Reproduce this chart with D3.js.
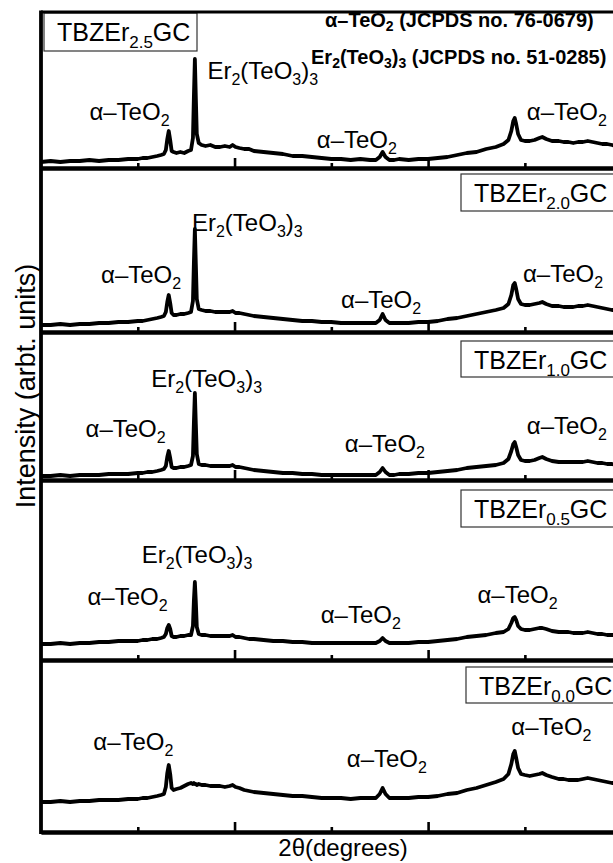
<!DOCTYPE html>
<html>
<head>
<meta charset="utf-8">
<script src="https://cdn.jsdelivr.net/npm/d3@7"></script>
<style>
  html, body { margin: 0; padding: 0; background: #fff; overflow: hidden; }
  text { font-family: "Liberation Sans", Arial, sans-serif; fill: #000; }
</style>
</head>
<body>
<svg id="chart" width="613" height="863"></svg>
<script>
// ---- data -------------------------------------------------------------
// 2θ sampling grid (degrees), shared by all patterns
const twoTheta = [
  10, 11, 12, 13, 14, 15, 16, 17, 18, 19, 20, 20.5, 21, 21.5, 22, 22.4, 22.7, 22.9, 23.05, 23.2,
  23.35, 23.5, 23.7, 24.0, 24.4, 24.8, 25.2, 25.5, 25.7, 25.8, 25.9, 26.0, 26.1, 26.3, 26.6, 27.0,
  27.5, 28, 28.5, 29, 29.5, 29.8, 30.1, 30.5, 31, 31.5, 32, 33, 34, 35, 36, 37, 38, 39, 40, 41,
  42, 43, 44, 44.6, 45.0, 45.3, 45.6, 46.0, 46.5, 47, 48, 49, 50, 51, 52, 53, 54, 55, 56, 57,
  57.8, 58.3, 58.6, 58.8, 58.95, 59.1, 59.3, 59.6, 60.0, 60.5, 61.0, 61.5, 61.8, 62.2, 62.8,
  63.5, 64, 64.5, 65, 65.5, 66, 66.5, 67, 67.5, 68, 68.5, 69, 69.5, 70, 70.5, 71, 71.5, 72
];

// Intensity (a.u.) of each glass-ceramic at the 2θ points above
const tbzEr25 = [
  6, 7, 6, 7, 7, 8, 7, 8, 8, 9, 9, 10, 10, 11, 12, 13, 14, 18, 29, 37,
  28, 17, 16, 15, 16, 15, 17, 18, 30, 72, 109, 70, 34, 25, 23, 22,
  23, 21, 21, 22, 21, 23, 21, 20, 19, 19, 17, 16, 15, 14, 12, 12, 11, 10, 9, 9,
  8, 9, 8, 8, 11, 16, 11, 8, 8, 9, 8, 9, 9, 10, 11, 13, 15, 16, 19, 21,
  24, 28, 37, 47, 50, 44, 34, 28, 27, 27, 28, 30, 31, 29, 27,
  27, 26, 26, 25, 26, 26, 27, 26, 25, 24, 24, 23, 22, 22, 21, 21, 20, 20
];
const tbzEr20 = [
  7, 7, 8, 7, 8, 8, 9, 9, 10, 10, 11, 11, 12, 13, 14, 15, 16, 20, 30, 37,
  29, 19, 17, 17, 18, 18, 19, 20, 31, 70, 103, 68, 33, 23, 22, 21,
  21, 20, 20, 20, 20, 21, 19, 19, 18, 17, 16, 15, 14, 13, 12, 11, 11, 10, 10, 9,
  9, 9, 9, 9, 12, 18, 12, 9, 9, 9, 9, 10, 10, 11, 13, 14, 16, 18, 20, 22,
  24, 28, 37, 47, 49, 43, 33, 28, 27, 27, 28, 29, 30, 28, 26,
  26, 25, 25, 25, 26, 26, 27, 26, 25, 24, 23, 22, 22, 21, 21, 20, 20, 20
];
const tbzEr10 = [
  4, 4, 5, 4, 5, 5, 5, 6, 6, 6, 7, 7, 8, 8, 9, 10, 11, 14, 23, 29,
  22, 13, 12, 12, 13, 13, 14, 15, 24, 58, 87, 56, 26, 16, 15, 15,
  14, 14, 14, 14, 14, 15, 13, 13, 12, 11, 10, 9, 8, 7, 7, 6, 6, 5, 5, 5,
  5, 5, 5, 5, 8, 12, 8, 5, 5, 6, 6, 7, 7, 8, 9, 10, 12, 13, 14, 15,
  17, 21, 29, 36, 38, 33, 25, 20, 19, 19, 20, 22, 23, 21, 19,
  18, 18, 18, 18, 18, 18, 19, 18, 17, 17, 16, 16, 15, 15, 15, 14, 14, 14
];
const tbzEr05 = [
  16, 16, 17, 16, 17, 17, 18, 18, 19, 19, 19, 20, 20, 21, 21, 22, 23, 26, 32, 35,
  31, 24, 23, 23, 24, 24, 25, 25, 34, 60, 78, 58, 33, 26, 25, 25,
  24, 24, 24, 24, 24, 25, 23, 23, 22, 21, 21, 20, 19, 19, 18, 18, 17, 17, 17, 17,
  17, 17, 17, 17, 19, 22, 19, 17, 17, 17, 17, 18, 18, 19, 20, 21, 23, 24, 25, 27,
  28, 31, 37, 42, 43, 40, 34, 31, 30, 30, 31, 32, 32, 31, 29,
  28, 28, 28, 27, 27, 27, 28, 27, 26, 26, 25, 25, 25, 24, 24, 24, 23, 23
];
const tbzEr00 = [
  30, 30, 31, 30, 31, 31, 32, 32, 32, 33, 33, 34, 34, 35, 36, 37, 38, 45, 59, 67,
  58, 44, 42, 43, 44, 46, 48, 49, 48, 49, 48, 48, 47, 48, 47, 47,
  46, 46, 46, 45, 46, 47, 45, 44, 42, 41, 40, 39, 38, 37, 36, 36, 35, 34, 34, 34,
  33, 34, 34, 34, 38, 44, 38, 34, 34, 34, 34, 35, 35, 36, 38, 39, 42, 44, 47, 50,
  53, 58, 68, 78, 81, 74, 64, 58, 57, 56, 57, 58, 59, 57, 55,
  53, 53, 52, 52, 52, 53, 54, 53, 52, 51, 50, 49, 49, 48, 48, 47, 47, 46
];

const erContents = ["2.5", "2.0", "1.0", "0.5", "0.0"];
const patterns = [tbzEr25, tbzEr20, tbzEr10, tbzEr05, tbzEr00];

// peak annotations for each pattern: [phase, 2θ of label start, intensity level of label baseline]
const peakLabels = [
  [["Er", 27.2, 89], ["TeO2", 15.0, 48], ["TeO2", 38.5, 20], ["TeO2", 60.2, 48]],
  [["Er", 25.6, 101], ["TeO2", 16.2, 49], ["TeO2", 41.0, 24], ["TeO2", 59.8, 50]],
  [["Er", 21.4, 93], ["TeO2", 14.6, 43], ["TeO2", 41.4, 28], ["TeO2", 60.2, 46]],
  [["Er", 20.4, 97], ["TeO2", 14.8, 55], ["TeO2", 38.9, 37], ["TeO2", 55.1, 57]],
  [["TeO2", 15.4, 82], ["TeO2", 41.6, 65], ["TeO2", 58.6, 97]]
];

const majorTicks = [30, 50, 70];
const minorTicks = [20, 40, 60];

const phaseRefs = [
  [["α–TeO"], ["2", 1], [" (JCPDS no. 76-0679)"]],
  [["Er"], ["2", 1], ["(TeO"], ["3", 1], [")"], ["3", 1], [" (JCPDS no. 51-0285)"]]
];
const phaseText = {
  TeO2: [["α–TeO"], ["2", 1]],
  Er: [["Er"], ["2", 1], ["(TeO"], ["3", 1], [")"], ["3", 1]]
};

// ---- layout -----------------------------------------------------------
const plotLeft = 41, plotRight = 641, plotTop = 12;
const panelBottoms = [168, 332, 480, 660, 832];
const boxes = [
  { x: 44, y: 13, w: 153, h: 38 },
  { x: 461, y: 174, w: 200, h: 37 },
  { x: 461, y: 341, w: 200, h: 36 },
  { x: 461, y: 490, w: 200, h: 37 },
  { x: 466, y: 667, w: 200, h: 36 }
];

const svg = d3.select("#chart");
const x = d3.scaleLinear().domain([10, 72]).range([plotLeft, plotRight]);

// text with subscripts
function richText(g, px, py, parts, size, subSize, shift, weight) {
  const t = g.append("text").attr("x", px).attr("y", py)
    .attr("font-size", size).attr("font-weight", weight || "normal");
  let down = false;
  parts.forEach(([s, sub]) => {
    const ts = t.append("tspan").text(s);
    if (sub && !down) { ts.attr("font-size", subSize).attr("dy", shift); down = true; }
    else if (sub) { ts.attr("font-size", subSize); }
    else if (down) { ts.attr("dy", -shift); down = false; }
  });
  return t;
}

patterns.forEach((vals, i) => {
  const bottom = panelBottoms[i];
  const y = d3.scaleLinear().domain([0, 150]).range([bottom, bottom - 150]);
  const g = svg.append("g");

  // diffraction pattern
  const line = d3.line().x((d, k) => x(twoTheta[k])).y(d => y(d)).curve(d3.curveLinear);
  g.append("path").datum(vals)
    .attr("d", line)
    .attr("fill", "none")
    .attr("stroke", "#000")
    .attr("stroke-width", 3.8)
    .attr("stroke-linejoin", "round");

  // sample label box
  const b = boxes[i];
  g.append("rect").attr("x", b.x).attr("y", b.y).attr("width", b.w).attr("height", b.h)
    .attr("fill", "#fff").attr("stroke", "#333").attr("stroke-width", 1.2);
  richText(g, b.x + 13, b.y + 28, [["TBZEr"], [erContents[i], 1], ["GC"]], 25, 17, 7);

  // peak assignments
  peakLabels[i].forEach(([phase, th, lvl]) => {
    richText(g, x(th), y(lvl), phaseText[phase], 24, 16, 6);
  });

  // axis with inward ticks
  const axMajor = d3.axisBottom(x).tickValues(majorTicks).tickSizeInner(-10).tickSizeOuter(0).tickFormat("");
  const axMinor = d3.axisBottom(x).tickValues(minorTicks).tickSizeInner(-5).tickSizeOuter(0).tickFormat("");
  const ga = g.append("g").attr("transform", `translate(0,${bottom})`).call(axMajor);
  const gb = g.append("g").attr("transform", `translate(0,${bottom})`).call(axMinor);
  [ga, gb].forEach(a => {
    a.selectAll(".tick line").attr("stroke", "#000").attr("stroke-width", 2.6);
    a.select(".domain").attr("stroke", "#000").attr("stroke-width", 3.8);
  });
});

// frame
svg.append("line").attr("x1", plotLeft).attr("x2", plotLeft)
  .attr("y1", plotTop - 1.5).attr("y2", panelBottoms[4] + 1.9)
  .attr("stroke", "#000").attr("stroke-width", 3.8);
svg.append("line").attr("x1", plotLeft).attr("x2", plotRight)
  .attr("y1", plotTop).attr("y2", plotTop)
  .attr("stroke", "#000").attr("stroke-width", 3.2);
svg.append("line").attr("x1", plotRight).attr("x2", plotRight)
  .attr("y1", plotTop).attr("y2", panelBottoms[4])
  .attr("stroke", "#000").attr("stroke-width", 3.8);

// phase references
richText(svg, 325, 27, phaseRefs[0], 20, 14, 4, "bold");
richText(svg, 311, 64, phaseRefs[1], 20, 14, 4, "bold");

// axis titles
svg.append("text").attr("x", 343).attr("y", 856).attr("text-anchor", "middle")
  .attr("font-size", 24).text("2θ(degrees)");
svg.append("text").attr("transform", "translate(35,386) rotate(-90)")
  .attr("text-anchor", "middle").attr("font-size", 27).text("Intensity (arbt. units)");
</script>
</body>
</html>
